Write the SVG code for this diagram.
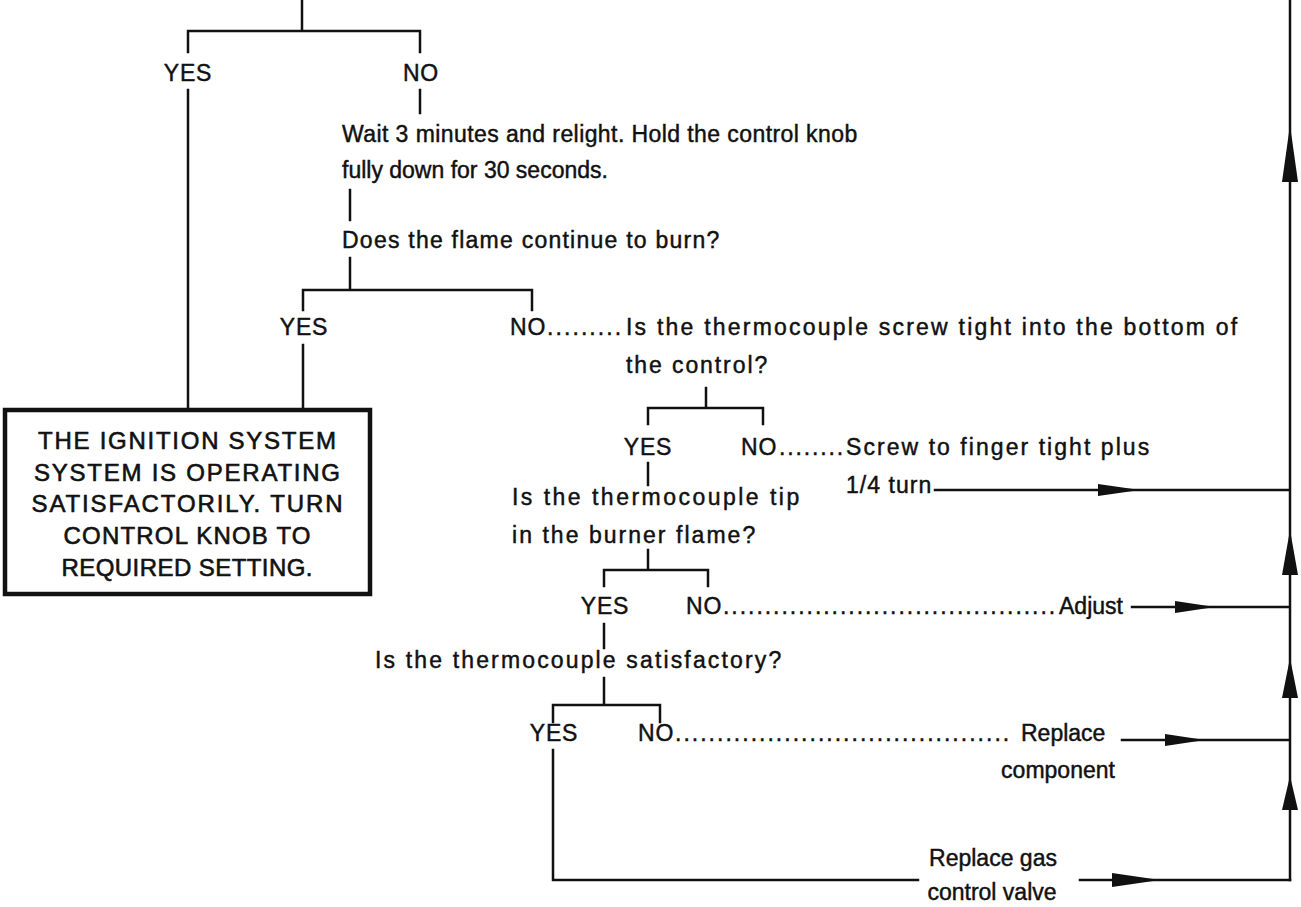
<svg xmlns="http://www.w3.org/2000/svg" width="1301" height="907" viewBox="0 0 1301 907">
<style>
text{font-family:"Liberation Sans",Arial,sans-serif;font-size:23px;fill:#111;stroke:#111;stroke-width:0.45;letter-spacing:0.8px;}
.c{text-anchor:middle;}
.t{letter-spacing:0;}
.box text{font-size:24px;text-anchor:middle;stroke-width:0.6;letter-spacing:0;}
.ln{stroke:#111;stroke-width:2.5;fill:none;stroke-linecap:square;}
.ah{fill:#111;}
</style>
<rect width="1301" height="907" fill="#fff"/>
<g id="connectors">
<path class="ln" d="M302,0V31 M188,52V31H420V52 M188,90V410 M420,90V113"/>
<path class="ln" d="M350,190V220 M350,258V290 M303,310V290H532V310 M303,345V410"/>
<path class="ln" d="M706,388V408 M648,424V408H763V424 M648,463V485"/>
<path class="ln" d="M648,550V570 M604,586V570H708V586 M604,624V648"/>
<path class="ln" d="M604,678V705 M553,722V705H660V722 M553,750V880H918 M1080,880H1290"/>
<path class="ln" d="M1290,0V880 M935,490H1290 M1132,607H1290 M1122,740H1290"/>
<path class="ah" d="M1290,125L1298,182H1282Z"/>
<path class="ah" d="M1290,530L1298,575H1282Z"/>
<path class="ah" d="M1290,658L1298,698H1282Z"/>
<path class="ah" d="M1290,776L1298,810H1282Z"/>
<path class="ah" d="M1140,490L1098,484V496Z"/>
<path class="ah" d="M1215,607L1175,601V613Z"/>
<path class="ah" d="M1205,740L1165,734V746Z"/>
<path class="ah" d="M1160,880L1112,873V887Z"/>
</g>
<g id="n-top">
<text x="188" y="81" class="c">YES</text>
<text x="421" y="81" class="c">NO</text>
</g>
<g id="n-wait">
<text x="342" y="142" textLength="516" lengthAdjust="spacing">Wait 3 minutes and relight. Hold the control knob</text>
<text x="342" y="178" class="t">fully down for 30 seconds.</text>
</g>
<g id="n-flame">
<text x="342" y="248" textLength="378" lengthAdjust="spacing">Does the flame continue to burn?</text>
<text x="304" y="335" class="c">YES</text>
</g>
<g id="n-screw">
<text x="510" y="335"><tspan x="510">NO</tspan><tspan x="547" textLength="75" lengthAdjust="spacing">.........</tspan><tspan x="626" textLength="612" lengthAdjust="spacing">Is the thermocouple screw tight into the bottom of</tspan></text>
<text x="626" y="373" textLength="142" lengthAdjust="spacing">the control?</text>
<text x="648" y="455" class="c">YES</text>
</g>
<g id="n-finger">
<text x="741" y="455"><tspan x="741">NO</tspan><tspan x="779" textLength="65" lengthAdjust="spacing">........</tspan><tspan x="846" textLength="304" lengthAdjust="spacing">Screw to finger tight plus</tspan></text>
<text x="846" y="493" textLength="86" lengthAdjust="spacing">1/4 turn</text>
</g>
<g id="n-tip">
<text x="512" y="505" textLength="288" lengthAdjust="spacing">Is the thermocouple tip</text>
<text x="512" y="543" textLength="244" lengthAdjust="spacing">in the burner flame?</text>
<text x="605" y="614" class="c">YES</text>
</g>
<g id="n-adjust">
<text x="686" y="614"><tspan x="686">NO</tspan><tspan x="723" textLength="333" lengthAdjust="spacing">........................................</tspan><tspan x="1059" class="t">Adjust</tspan></text>
</g>
<g id="n-satisfactory">
<text x="375" y="668" textLength="407" lengthAdjust="spacing">Is the thermocouple  satisfactory?</text>
<text x="554" y="741" class="c">YES</text>
</g>
<g id="n-replace">
<text x="638" y="741"><tspan x="638">NO</tspan><tspan x="675" textLength="335" lengthAdjust="spacing">........................................</tspan><tspan x="1021" class="t">Replace</tspan></text>
<text x="1058" y="778" class="c t">component</text>
</g>
<g id="n-valve">
<text x="993" y="866" class="c t">Replace gas</text>
<text x="992" y="900" class="c t">control valve</text>
</g>
<g id="n-box" class="box">
<rect x="5" y="410" width="365" height="184" fill="#fff" stroke="#111" stroke-width="4.5"/>
<text x="187" y="449" textLength="298" lengthAdjust="spacing">THE IGNITION SYSTEM</text>
<text x="187" y="481" textLength="306" lengthAdjust="spacing">SYSTEM IS OPERATING</text>
<text x="187" y="512" textLength="311" lengthAdjust="spacing">SATISFACTORILY. TURN</text>
<text x="187" y="544" textLength="247" lengthAdjust="spacing">CONTROL KNOB TO</text>
<text x="187" y="576" textLength="251" lengthAdjust="spacing">REQUIRED SETTING.</text>
</g>
</svg>
